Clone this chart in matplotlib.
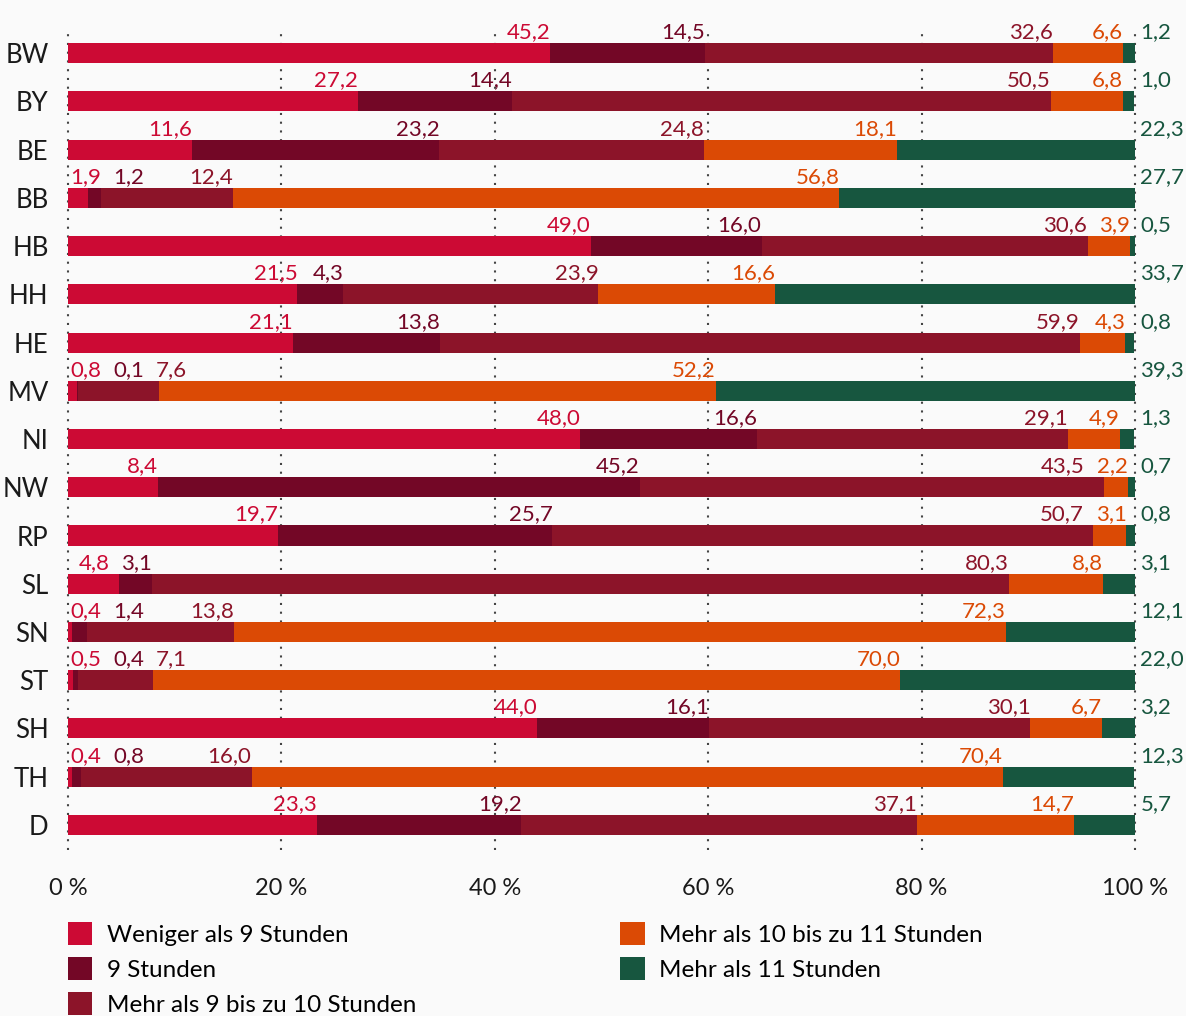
import numpy as np
import matplotlib
matplotlib.use('Agg')
import matplotlib.pyplot as plt
from matplotlib.patches import Patch

# Daten (Anteile in %)
laender = ['BW', 'BY', 'BE', 'BB', 'HB', 'HH', 'HE', 'MV', 'NI', 'NW',
           'RP', 'SL', 'SN', 'ST', 'SH', 'TH', 'D']
weniger_9 = [45.2, 27.2, 11.6, 1.9, 49.0, 21.5, 21.1, 0.8, 48.0, 8.4,
             19.7, 4.8, 0.4, 0.5, 44.0, 0.4, 23.3]
stunden_9 = [14.5, 14.4, 23.2, 1.2, 16.0, 4.3, 13.8, 0.1, 16.6, 45.2,
             25.7, 3.1, 1.4, 0.4, 16.1, 0.8, 19.2]
mehr_9_10 = [32.6, 50.5, 24.8, 12.4, 30.6, 23.9, 59.9, 7.6, 29.1, 43.5,
             50.7, 80.3, 13.8, 7.1, 30.1, 16.0, 37.1]
mehr_10_11 = [6.6, 6.8, 18.1, 56.8, 3.9, 16.6, 4.3, 52.2, 4.9, 2.2,
              3.1, 8.8, 72.3, 70.0, 6.7, 70.4, 14.7]
mehr_11 = [1.2, 1.0, 22.3, 27.7, 0.5, 33.7, 0.8, 39.3, 1.3, 0.7,
           0.8, 3.1, 12.1, 22.0, 3.2, 12.3, 5.7]
serien = ['Weniger als 9 Stunden', '9 Stunden', 'Mehr als 9 bis zu 10 Stunden',
          'Mehr als 10 bis zu 11 Stunden', 'Mehr als 11 Stunden']
farben = ['#CC0A34', '#730726', '#8C1429', '#DB4A05', '#17563F']
x_ticks = [0, 20, 40, 60, 80, 100]

plt.rcParams['font.family'] = ['Lato', 'DejaVu Sans']

W, H = 1186, 1016
fig = plt.figure(figsize=(W / 100, H / 100), dpi=100, facecolor='#fafafa')
ax = fig.add_axes([68 / W, 166 / H, (1135 - 68) / W, 820 / H])
ax.set_facecolor('#fafafa')

werte = np.array([weniger_9, stunden_9, mehr_9_10, mehr_10_11, mehr_11])
y = np.arange(len(laender))
links = np.zeros(len(laender))
for k in range(len(serien)):
    ax.barh(y, werte[k], left=links, height=0.415, color=farben[k], zorder=2)
    links += werte[k]

ax.set_xlim(0, 100)
ax.set_ylim(len(laender) - 0.48, -0.48)
for xt in x_ticks:
    ax.axvline(xt, color='#444444', lw=1.5, ls=(0, (1, 3.2)), zorder=1, clip_on=False)

for s in ax.spines.values():
    s.set_visible(False)
ax.set_yticks(y, laender)
ax.set_xticks(x_ticks, [f'{t} %' for t in x_ticks])
ax.tick_params(axis='y', length=0, pad=14, labelsize=18.5, colors='#1a1a1a')
ax.tick_params(axis='x', length=0, pad=20, labelsize=17, colors='#1a1a1a')

# Beschriftungen ueber den Balken
fig.canvas.draw()
r = fig.canvas.get_renderer()
p = ax.transData.transform([(0, 0), (1, 0)])
ppu = p[1, 0] - p[0, 0]
gap = 12 / ppu
pad = 2 / ppu
fmt = lambda v: f'{v:.1f}'.replace('.', ',')
for i in range(len(laender)):
    yb = i - 0.31
    cum = np.cumsum(werte[:, i])
    texte = [ax.text(cum[k], yb, fmt(werte[k, i]), ha='right', va='baseline',
                     fontsize=16, color=farben[k], zorder=3) for k in range(4)]
    breiten = [t.get_window_extent(r).width / ppu for t in texte]
    rechts = list(cum[:4])
    for j in range(2, -1, -1):
        rechts[j] = min(rechts[j], rechts[j + 1] - breiten[j + 1] - gap)
    if rechts[0] - breiten[0] < pad:
        rechts[0] = breiten[0] + pad
    for j in range(1, 4):
        rechts[j] = max(rechts[j], rechts[j - 1] + gap + breiten[j])
    for t, xr in zip(texte, rechts):
        t.set_x(xr)
    ax.text(100.5, yb, fmt(werte[4, i]), ha='left', va='baseline',
            fontsize=16, color=farben[4], zorder=3, clip_on=False)

handles = [Patch(facecolor=c, edgecolor='none') for c in farben]
fig.legend(handles, serien, ncol=2, loc='upper left',
           bbox_to_anchor=(68 / W, (H - 922) / H), frameon=False,
           fontsize=17.5, handlelength=1.0, handleheight=1.1, handletextpad=0.6,
           labelspacing=0.45, columnspacing=8.4, borderpad=0, borderaxespad=0)

fig.savefig('out.png', dpi=100, facecolor=fig.get_facecolor())
